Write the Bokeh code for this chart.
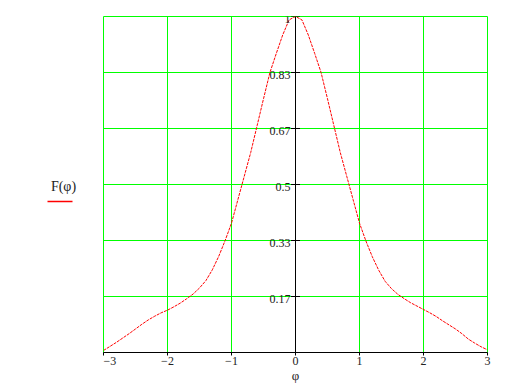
import numpy as np
from bokeh.plotting import figure
from bokeh.layouts import row
from bokeh.models import (ColumnDataSource, LabelSet, Span, FixedTicker, Range1d)
from bokeh.core.properties import value
from bokeh.embed import file_html
from bokeh.resources import INLINE

# ---- data ----
phi = [-3.0, -2.9, -2.8, -2.7, -2.6, -2.5, -2.4, -2.3, -2.2, -2.1, -2.0,
       -1.9, -1.8, -1.7, -1.6, -1.5, -1.4, -1.3, -1.2, -1.1, -1.0,
       -0.9, -0.8, -0.7, -0.6, -0.5, -0.4, -0.3, -0.2, -0.1, 0.0,
       0.1, 0.2, 0.3, 0.4, 0.5, 0.6, 0.7, 0.8, 0.9, 1.0,
       1.1, 1.2, 1.3, 1.4, 1.5, 1.6, 1.7, 1.8, 1.9, 2.0,
       2.1, 2.2, 2.3, 2.4, 2.5, 2.6, 2.7, 2.8, 2.9, 3.0]
F = [0.006, 0.018, 0.030, 0.043, 0.056, 0.070, 0.084, 0.097, 0.108, 0.118, 0.126,
     0.136, 0.147, 0.160, 0.174, 0.192, 0.214, 0.246, 0.286, 0.333, 0.385,
     0.455, 0.525, 0.595, 0.675, 0.755, 0.833, 0.890, 0.945, 0.990, 1.000,
     0.990, 0.945, 0.890, 0.833, 0.755, 0.675, 0.595, 0.525, 0.455, 0.385,
     0.332, 0.285, 0.245, 0.212, 0.190, 0.173, 0.160, 0.148, 0.138, 0.128,
     0.118, 0.107, 0.094, 0.082, 0.070, 0.056, 0.040, 0.028, 0.017, 0.008]

x_ticks = [-3, -2, -1, 0, 1, 2, 3]
x_tick_labels = ["\u22123", "\u22122", "\u22121", "0", "1", "2", "3"]
y_ticks = [1/6, 2/6, 3/6, 4/6, 5/6, 1.0]
y_tick_labels = ["0.17", "0.33", "0.5", "0.67", "0.83", "1"]
legend_label = "F(\u03c6)"
x_label = "\u03c6"

FONT = "Liberation Serif"
GREEN = "#00ff00"
TXT = "#222222"

# ---- left strip holding the legend entry (pixel coordinates) ----
leg = figure(frame_width=103, frame_height=388, output_backend="svg",
             toolbar_location=None, title=None,
             x_range=Range1d(0, 103), y_range=Range1d(388, 0),
             x_axis_location=None, y_axis_location=None,
             min_border=0, min_border_left=0, min_border_right=0,
             min_border_top=0, min_border_bottom=0)
leg.grid.visible = False
leg.outline_line_color = None
leg.text(x=[63], y=[170], text=[legend_label], text_align="center",
         text_baseline="middle", text_font=value(FONT), text_font_size="14px",
         text_color=TXT)
leg.line(x=[47, 72], y=[185, 185], line_color="red", line_width=1.5)

# ---- main plot ----
p = figure(width=402, height=388, output_backend="svg", toolbar_location=None,
           x_range=Range1d(-3, 3), y_range=Range1d(0, 1),
           min_border_left=0, min_border_right=18, min_border_top=16,
           min_border_bottom=36)
p.outline_line_color = GREEN
p.outline_line_width = 1

p.xgrid.ticker = FixedTicker(ticks=x_ticks)
p.ygrid.ticker = FixedTicker(ticks=y_ticks)
for g in (p.xgrid, p.ygrid):
    g.grid_line_color = GREEN
    g.grid_line_width = 1

p.yaxis.visible = False
ax = p.xaxis[0]
ax.ticker = FixedTicker(ticks=x_ticks)
ax.major_label_overrides = {t: s for t, s in zip(x_ticks, x_tick_labels)}
ax.axis_line_color = "black"
ax.axis_line_width = 1
ax.major_tick_out = 3
ax.major_tick_in = 0
ax.minor_tick_out = 0
ax.minor_tick_in = 0
ax.major_tick_line_color = "black"
ax.major_label_text_font = FONT
ax.major_label_text_font_size = "12px"
ax.major_label_text_color = TXT
ax.major_label_standoff = 1
ax.axis_label = x_label
ax.axis_label_text_font = FONT
ax.axis_label_text_font_size = "13px"
ax.axis_label_text_font_style = "normal"
ax.axis_label_text_color = TXT
ax.axis_label_standoff = 0

# vertical axis at phi = 0
p.add_layout(Span(location=0, dimension="height", line_color="black", line_width=1))
p.scatter(x=[0] * len(y_ticks), y=y_ticks, marker="dash", size=9,
          line_color="black", line_width=1)
src = ColumnDataSource(dict(x=[0] * len(y_ticks), y=y_ticks, t=y_tick_labels))
p.add_layout(LabelSet(x="x", y="y", text="t", source=src, x_offset=-5, y_offset=-2,
                      text_align="right", text_baseline="middle",
                      text_font=FONT, text_font_size="12px", text_color=TXT))

# curve
p.line(phi, F, line_color="red", line_width=1, line_dash="3 1")

layout = row(leg, p, spacing=0)
open("out.html", "w").write(file_html(layout, INLINE))
